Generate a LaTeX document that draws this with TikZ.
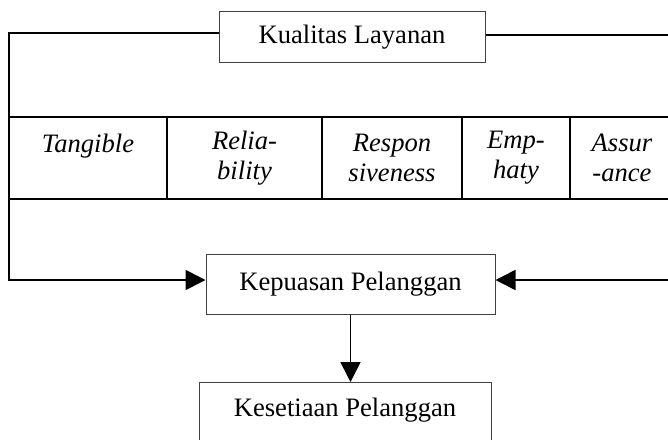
\documentclass[tikz,border=0pt]{standalone}
\usepackage{fontspec}
\setmainfont{Liberation Serif}
\usepackage{tikz}
\usetikzlibrary{positioning,arrows.meta}

\tikzset{
	box/.style={draw=black!75, line width=0.5pt, inner sep=0pt, font=\fontsize{13.3}{15}\selectfont},
	cell/.style={draw, line width=0.8pt, outer sep=0pt, inner sep=0pt, minimum height=41pt, align=center, font=\fontsize{13.3}{15}\selectfont\itshape},
	link/.style={line width=0.8pt},
	tip/.style={-{Triangle[length=10pt,width=10pt]}}
}

\begin{document}
\begin{tikzpicture}[x=0.5pt, y=-0.5pt]
	\useasboundingbox (0,0) rectangle (668,439);
	\clip (0,0) rectangle (668,439);
	\node[box, minimum width=133pt, minimum height=25.5pt] (kual) at (352,37) {Kualitas Layanan};
	% baris dimensi
	\node[cell, minimum width=79pt, text depth=15pt, anchor=west] (tang) at (9,158) {Tangible};
	\node[cell, minimum width=77.5pt, right=0pt of tang] (reli) {Relia-\\bility};
	\node[cell, minimum width=70pt, right=0pt of reli] (resp) {Respon\\siveness};
	\node[cell, minimum width=54pt, right=0pt of resp] (empa) {Emp-\\haty};
	\node[cell, minimum width=52pt, right=0pt of empa] (assu) {Assur\\-ance};
	\node[box, minimum width=144.5pt, minimum height=30pt] (kep) at (350.5,284) {Kepuasan Pelanggan};
	\node[box, minimum width=146pt, anchor=north, text height=17pt, text depth=20pt] (kes) at (345,382) {Kesetiaan Pelanggan};
	\coordinate (lf) at (9,280);
	\coordinate (rt) at (676,280);
	\draw[link, tip] ([yshift=2pt]kual.west) -| (lf) |- ([yshift=2pt]kep.west);
	\draw[link, tip] ([yshift=1pt]kual.east) -| (rt) |- ([yshift=2pt]kep.east);
	\path[link, tip]
	(kep) edge (kep.south |- kes.north) ;
\end{tikzpicture}
\end{document}
